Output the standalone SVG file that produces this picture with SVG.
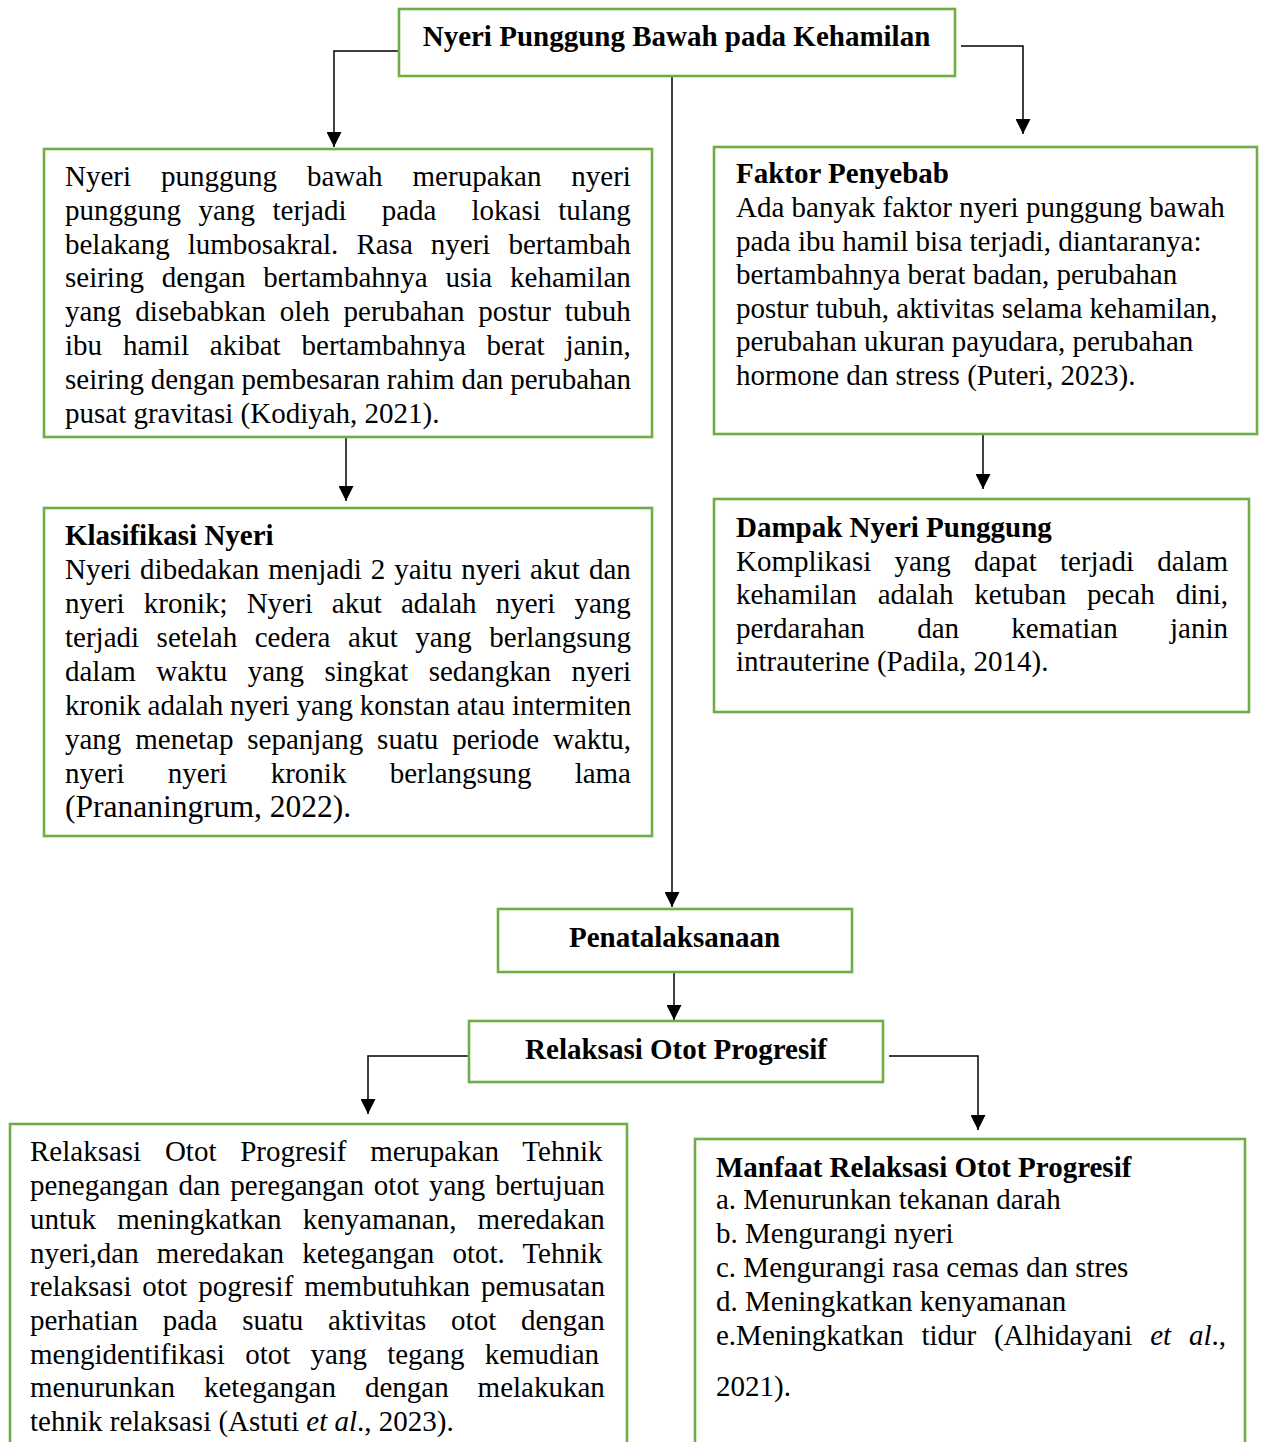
<svg xmlns="http://www.w3.org/2000/svg" width="1262" height="1442" viewBox="0 0 1262 1442">
<style>
.box{fill:#fff;stroke:#70AD47;stroke-width:2.6}
.t{font-family:"Liberation Serif","Times New Roman",serif;font-size:29px;fill:#000}
.b{font-weight:bold}
.i{font-style:italic}
.conn path{fill:none;stroke:#000;stroke-width:1.5}
</style>
<defs>
<marker id="arr" markerUnits="userSpaceOnUse" markerWidth="15" markerHeight="15" viewBox="0 0 15 15" refX="15" refY="7.5" orient="auto">
<path d="M0,0 L15,7.5 L0,15 z" fill="#000"/>
</marker>
</defs>
<rect width="1262" height="1442" fill="#fff"/>
<g id="connectors" class="conn">
<path d="M399,51 H334 V147" marker-end="url(#arr)"/>
<path d="M961,46 H1023 V134" marker-end="url(#arr)"/>
<path d="M672,76 V907" marker-end="url(#arr)"/>
<path d="M346,437 V501" marker-end="url(#arr)"/>
<path d="M983,435 V489" marker-end="url(#arr)"/>
<path d="M674,972 V1020" marker-end="url(#arr)"/>
<path d="M469,1056 H368 V1114" marker-end="url(#arr)"/>
<path d="M889,1056 H978 V1130" marker-end="url(#arr)"/>
</g>
<g id="node-title">
<rect class="box" x="399" y="9" width="556" height="67"/>
<text class="t b" x="676.5" y="46" text-anchor="middle">Nyeri Punggung Bawah pada Kehamilan</text>
</g>
<g id="node-definisi">
<rect class="box" x="44" y="149" width="608" height="288"/>
<text class="t" x="65" y="186" word-spacing="22.7">Nyeri punggung bawah merupakan nyeri</text>
<text class="t" x="65" y="219.8" word-spacing="10.3" xml:space="preserve">punggung yang terjadi  pada  lokasi tulang</text>
<text class="t" x="65" y="253.6" word-spacing="10.8">belakang lumbosakral. Rasa nyeri bertambah</text>
<text class="t" x="65" y="287.4" word-spacing="10.6">seiring dengan bertambahnya usia kehamilan</text>
<text class="t" x="65" y="321.2" word-spacing="6.7">yang disebabkan oleh perubahan postur tubuh</text>
<text class="t" x="65" y="355" word-spacing="13.6">ibu hamil akibat bertambahnya berat janin,</text>
<text class="t" x="65" y="388.8" word-spacing="-0.35">seiring dengan pembesaran rahim dan perubahan</text>
<text class="t" x="65" y="422.6">pusat gravitasi (Kodiyah, 2021).</text>
</g>
<g id="node-klasifikasi">
<rect class="box" x="44" y="508" width="608" height="328"/>
<text class="t b" x="65" y="545">Klasifikasi Nyeri</text>
<text class="t" x="65" y="579" word-spacing="1.8">Nyeri dibedakan menjadi 2 yaitu nyeri akut dan</text>
<text class="t" x="65" y="613" word-spacing="11.9">nyeri kronik; Nyeri akut adalah nyeri yang</text>
<text class="t" x="65" y="647" word-spacing="10.3">terjadi setelah cedera akut yang berlangsung</text>
<text class="t" x="65" y="681" word-spacing="13.2">dalam waktu yang singkat sedangkan nyeri</text>
<text class="t" x="65" y="715" word-spacing="-0.4">kronik adalah nyeri yang konstan atau intermiten</text>
<text class="t" x="65" y="749" word-spacing="6.6">yang menetap sepanjang suatu periode waktu,</text>
<text class="t" x="65" y="783" word-spacing="36">nyeri nyeri kronik berlangsung lama</text>
<text class="t" x="65" y="817" style="font-size:31.5px">(Prananingrum, 2022).</text>
</g>
<g id="node-faktor">
<rect class="box" x="714" y="147" width="543" height="287"/>
<text class="t b" x="736" y="183">Faktor Penyebab</text>
<text class="t" x="736" y="217">Ada banyak faktor nyeri punggung bawah</text>
<text class="t" x="736" y="250.5">pada ibu hamil bisa terjadi, diantaranya:</text>
<text class="t" x="736" y="284">bertambahnya berat badan, perubahan</text>
<text class="t" x="736" y="318">postur tubuh, aktivitas selama kehamilan,</text>
<text class="t" x="736" y="351">perubahan ukuran payudara, perubahan</text>
<text class="t" x="736" y="385">hormone dan stress (Puteri, 2023).</text>
</g>
<g id="node-dampak">
<rect class="box" x="714" y="499" width="535" height="213"/>
<text class="t b" x="736" y="537">Dampak Nyeri Punggung</text>
<text class="t" x="736" y="570.5" word-spacing="15.9">Komplikasi yang dapat terjadi dalam</text>
<text class="t" x="736" y="604" word-spacing="13.7">kehamilan adalah ketuban pecah dini,</text>
<text class="t" x="736" y="637.5" word-spacing="45.1">perdarahan dan kematian janin</text>
<text class="t" x="736" y="671">intrauterine (Padila, 2014).</text>
</g>
<g id="node-penatalaksanaan">
<rect class="box" x="498" y="909" width="354" height="63"/>
<text class="t b" x="674.5" y="947" text-anchor="middle">Penatalaksanaan</text>
</g>
<g id="node-relaksasi">
<rect class="box" x="469" y="1021" width="414" height="61"/>
<text class="t b" x="676" y="1059" text-anchor="middle">Relaksasi Otot Progresif</text>
</g>
<g id="node-definisi-rop">
<rect class="box" x="10" y="1124" width="617" height="340"/>
<text class="t" x="30" y="1161" word-spacing="16.5">Relaksasi Otot Progresif merupakan Tehnik</text>
<text class="t" x="30" y="1195" word-spacing="2.7">penegangan dan peregangan otot yang bertujuan</text>
<text class="t" x="30" y="1229" word-spacing="13.9">untuk meningkatkan kenyamanan, meredakan</text>
<text class="t" x="30" y="1262.5" word-spacing="10.9">nyeri,dan meredakan ketegangan otot. Tehnik</text>
<text class="t" x="30" y="1296" word-spacing="3.6">relaksasi otot pogresif membutuhkan pemusatan</text>
<text class="t" x="30" y="1330" word-spacing="17.5">perhatian pada suatu aktivitas otot dengan</text>
<text class="t" x="30" y="1363.5" word-spacing="13">mengidentifikasi otot yang tegang kemudian</text>
<text class="t" x="30" y="1397" word-spacing="21.7">menurunkan ketegangan dengan melakukan</text>
<text class="t" x="30" y="1430.5">tehnik relaksasi (Astuti <tspan class="i">et al</tspan>., 2023).</text>
</g>
<g id="node-manfaat">
<rect class="box" x="695" y="1139" width="550" height="325"/>
<text class="t b" x="716" y="1177">Manfaat Relaksasi Otot Progresif</text>
<text class="t" x="716" y="1209">a. Menurunkan tekanan darah</text>
<text class="t" x="716" y="1243">b. Mengurangi nyeri</text>
<text class="t" x="716" y="1277">c. Mengurangi rasa cemas dan stres</text>
<text class="t" x="716" y="1311">d. Meningkatkan kenyamanan</text>
<text class="t" x="716" y="1345" word-spacing="10.5">e.Meningkatkan tidur (Alhidayani <tspan class="i">et</tspan> <tspan class="i">al</tspan>.,</text>
<text class="t" x="716" y="1396">2021).</text>
</g>
</svg>
